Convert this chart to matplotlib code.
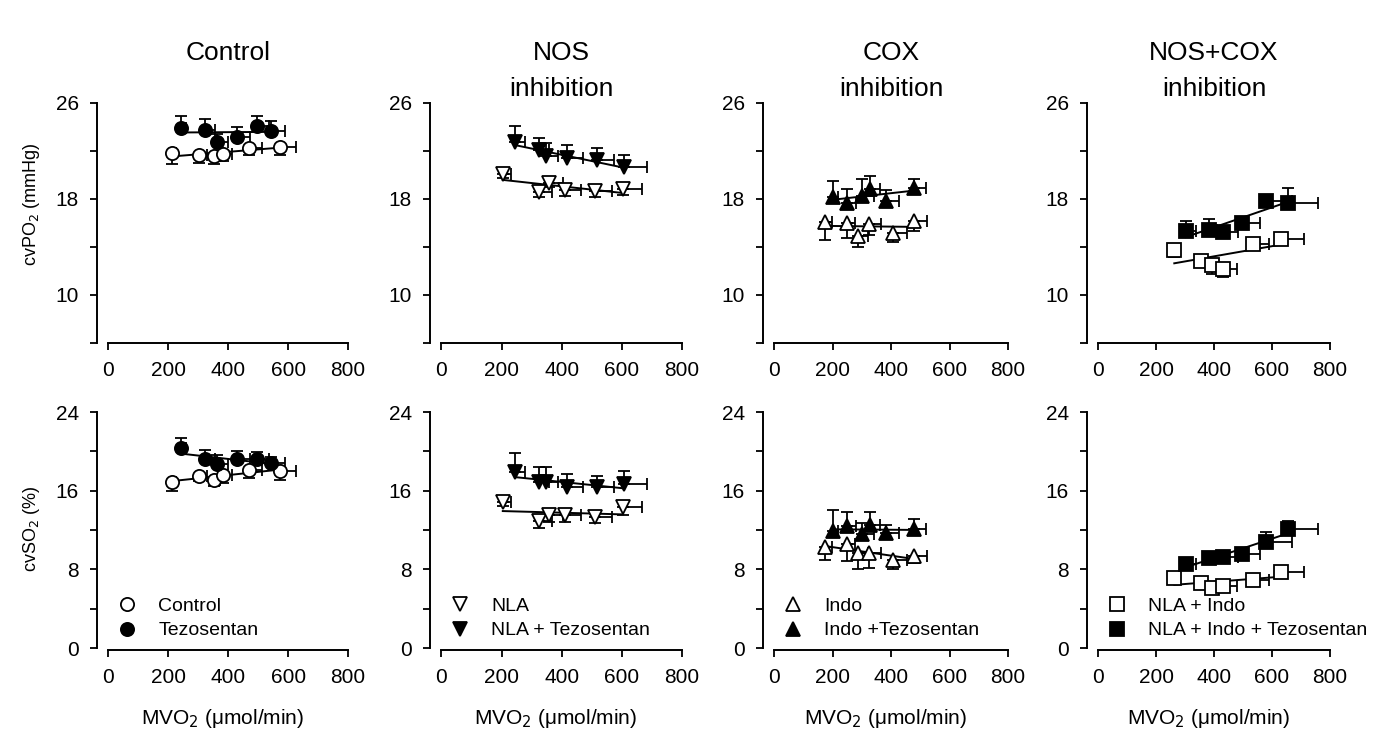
import numpy as np
import matplotlib
matplotlib.use("Agg")
import matplotlib.pyplot as plt

plt.rcParams['font.family'] = ['Liberation Sans', 'DejaVu Sans']

# MVO2 (x) per group, with SEM (drawn to the right)
mvo2_control = [212, 304, 351, 381, 469, 573]
mvo2_control_err = [15, 24, 20, 31, 43, 53]
mvo2_tezo = [243, 322, 362, 429, 496, 543]
mvo2_tezo_err = [15, 33, 37, 44, 40, 45]
mvo2_nla = [204, 324, 357, 412, 512, 604]
mvo2_nla_err = [28, 45, 48, 53, 55, 64]
mvo2_nla_tezo = [246, 324, 349, 419, 518, 608]
mvo2_nla_tezo_err = [33, 35, 39, 52, 57, 74]
mvo2_indo = [175, 248, 286, 326, 407, 478]
mvo2_indo_err = [23, 30, 34, 40, 46, 46]
mvo2_indo_tezo = [200, 250, 301, 329, 384, 478]
mvo2_indo_tezo_err = [20, 29, 39, 32, 42, 41]
mvo2_nlaindo = [263, 354, 392, 432, 535, 630]
mvo2_nlaindo_err = [8, 20, 17, 46, 55, 82]
mvo2_nlaindo_tezo = [303, 382, 432, 497, 578, 656]
mvo2_nlaindo_tezo_err = [34, 30, 52, 62, 92, 101]

# cvPO2 (mmHg)
po2_control = [21.8, 21.64, 21.58, 21.75, 22.22, 22.36]
po2_control_err = [0.89, 0.67, 0.67, 0.55, 0.55, 0.7]
po2_tezo = [23.94, 23.75, 22.78, 23.2, 24.08, 23.67]
po2_tezo_err = [0.95, 0.92, 0.6, 0.8, 0.83, 0.86]
po2_nla = [20.08, 18.61, 19.36, 18.75, 18.69, 18.81]
po2_nla_err = [0.3, 0.47, 0.4, 0.5, 0.5, 0.5]
po2_nla_tezo = [22.78, 22.08, 21.58, 21.44, 21.25, 20.64]
po2_nla_tezo_err = [1.3, 1.03, 1.1, 1.05, 1.03, 1.03]
po2_indo = [16.11, 15.97, 14.94, 15.9, 15.2, 16.2]
po2_indo_err = [1.5, 1.2, 0.9, 0.9, 0.8, 0.9]
po2_indo_tezo = [18.14, 17.7, 18.25, 18.8, 17.86, 18.9]
po2_indo_tezo_err = [1.36, 1.17, 1.39, 1.1, 0.9, 0.8]
po2_nlaindo = [13.75, 12.86, 12.5, 12.14, 14.25, 14.7]
po2_nlaindo_err = [0.55, 0.4, 0.78, 0.6, 0.3, 0.3]
po2_nlaindo_tezo = [15.33, 15.42, 15.25, 16.03, 17.83, 17.7]
po2_nlaindo_tezo_err = [0.86, 0.9, 0.4, 0.4, 0.3, 1.25]

# cvSO2 (%)
so2_control = [16.92, 17.49, 17.08, 17.56, 18.1, 18.0]
so2_control_err = [0.92, 0.5, 0.6, 0.8, 0.85, 0.92]
so2_tezo = [20.31, 19.19, 18.71, 19.19, 19.19, 18.78]
so2_tezo_err = [1.02, 0.95, 0.92, 0.88, 0.78, 0.68]
so2_nla = [14.88, 12.95, 13.53, 13.53, 13.36, 14.3]
so2_nla_err = [0.4, 0.78, 0.68, 0.68, 0.6, 0.78]
so2_nla_tezo = [17.93, 16.92, 16.92, 16.34, 16.34, 16.68]
so2_nla_tezo_err = [1.86, 1.5, 1.53, 1.36, 1.19, 1.29]
so2_indo = [10.3, 10.54, 9.63, 9.63, 8.95, 9.39]
so2_indo_err = [1.36, 1.69, 1.56, 1.46, 0.95, 0.78]
so2_indo_tezo = [11.93, 12.41, 11.59, 12.5, 11.73, 12.1]
so2_indo_tezo_err = [2.1, 1.39, 1.15, 1.36, 0.78, 0.98]
so2_nlaindo = [7.09, 6.64, 6.14, 6.31, 6.92, 7.76]
so2_nlaindo_err = [0.3, 0.3, 0.3, 0.3, 0.3, 0.3]
so2_nlaindo_tezo = [8.51, 9.12, 9.29, 9.53, 10.81, 12.1]
so2_nlaindo_tezo_err = [0.3, 0.3, 0.3, 0.3, 0.95, 0.85]

titles = ['Control', 'NOS\ninhibition', 'COX\ninhibition', 'NOS+COX\ninhibition']
legend_open = ['Control', 'NLA', 'Indo', 'NLA + Indo']
legend_filled = ['Tezosentan', 'NLA + Tezosentan', 'Indo +Tezosentan', 'NLA + Indo + Tezosentan']
markers = ['o', 'v', '^', 's']

open_x = [mvo2_control, mvo2_nla, mvo2_indo, mvo2_nlaindo]
open_xe = [mvo2_control_err, mvo2_nla_err, mvo2_indo_err, mvo2_nlaindo_err]
filled_x = [mvo2_tezo, mvo2_nla_tezo, mvo2_indo_tezo, mvo2_nlaindo_tezo]
filled_xe = [mvo2_tezo_err, mvo2_nla_tezo_err, mvo2_indo_tezo_err, mvo2_nlaindo_tezo_err]
open_po2 = [(po2_control, po2_control_err), (po2_nla, po2_nla_err), (po2_indo, po2_indo_err), (po2_nlaindo, po2_nlaindo_err)]
filled_po2 = [(po2_tezo, po2_tezo_err), (po2_nla_tezo, po2_nla_tezo_err), (po2_indo_tezo, po2_indo_tezo_err), (po2_nlaindo_tezo, po2_nlaindo_tezo_err)]
open_so2 = [(so2_control, so2_control_err), (so2_nla, so2_nla_err), (so2_indo, so2_indo_err), (so2_nlaindo, so2_nlaindo_err)]
filled_so2 = [(so2_tezo, so2_tezo_err), (so2_nla_tezo, so2_nla_tezo_err), (so2_indo_tezo, so2_indo_tezo_err), (so2_nlaindo_tezo, so2_nlaindo_tezo_err)]

W, H = 1382, 736
fig = plt.figure(figsize=(W / 100, H / 100), dpi=100)

col_left = [97, 430, 763, 1087]
col_right = [348, 682, 1008, 1330]


def series(ax, x, xe, y, ye, marker, filled):
    x = np.array(x, float)
    y = np.array(y, float)
    xe = np.array(xe, float)
    ye = np.array(ye, float)
    z = np.zeros_like(ye)
    yerr = [z, ye] if filled else [ye, z]
    ax.errorbar(x, y, xerr=[np.zeros_like(xe), xe], yerr=yerr, fmt='none',
                ecolor='black', elinewidth=1.3, capsize=4, capthick=1.3, zorder=2)
    # linear regression line over the data range
    k, b = np.polyfit(x, y, 1)
    xl = np.array([x.min(), x.max()])
    ax.plot(xl, k * xl + b, color='black', lw=1.4, zorder=3)
    ax.plot(x, y, linestyle='none', marker=marker, ms=9.5, mew=1.3, mec='black',
            mfc='black' if filled else 'white', zorder=4)


def style(ax, ylo, yhi, majors, minors, lim):
    ax.set_xlim(-38, 800)
    ax.set_ylim(*lim)
    for s in ['top', 'right']:
        ax.spines[s].set_visible(False)
    ax.spines['bottom'].set_bounds(0, 800)
    ax.spines['left'].set_bounds(ylo, yhi)
    for s in ['bottom', 'left']:
        ax.spines[s].set_linewidth(1.4)
    ax.set_xticks([0, 200, 400, 600, 800])
    ax.set_yticks(majors)
    ax.set_yticks(minors, minor=True)
    ax.tick_params(which='both', direction='out', length=5, width=1.3, labelsize=15, pad=8)


for i in range(4):
    l = col_left[i] / W
    w = (col_right[i] - col_left[i]) / W
    # top row: cvPO2
    ax = fig.add_axes([l, 1 - 343 / H, w, 240 / H])
    series(ax, open_x[i], open_xe[i], open_po2[i][0], open_po2[i][1], markers[i], False)
    series(ax, filled_x[i], filled_xe[i], filled_po2[i][0], filled_po2[i][1], markers[i], True)
    style(ax, 6, 26, [10, 18, 26], [6, 14, 22], (6, 26))
    if i == 0:
        ax.set_ylabel('cvPO$_2$ (mmHg)', fontsize=13)
        ax.yaxis.set_label_coords(-0.22, 0.58)
    # bottom row: cvSO2
    ax2 = fig.add_axes([l, 1 - 650 / H, w, 238 / H])
    series(ax2, open_x[i], open_xe[i], open_so2[i][0], open_so2[i][1], markers[i], False)
    series(ax2, filled_x[i], filled_xe[i], filled_so2[i][0], filled_so2[i][1], markers[i], True)
    style(ax2, 0, 24, [0, 8, 16, 24], [4, 12, 20], (-0.2, 24))
    if i == 0:
        ax2.set_ylabel('cvSO$_2$ (%)', fontsize=13)
        ax2.yaxis.set_label_coords(-0.22, 0.51)
    ax2.set_xlabel('MVO$_2$ (\u03bcmol/min)', fontsize=15, labelpad=14)
    h1 = ax2.plot([], [], linestyle='none', marker=markers[i], ms=9.5, mew=1.3,
                  mec='black', mfc='white')[0]
    h2 = ax2.plot([], [], linestyle='none', marker=markers[i], ms=9.5, mew=1.3,
                  mec='black', mfc='black')[0]
    ax2.legend([h1, h2], [legend_open[i], legend_filled[i]], loc='lower left',
               bbox_to_anchor=(0.0, 0.0), frameon=False, fontsize=14,
               handletextpad=0.6, labelspacing=0.35, borderaxespad=0.45,
               borderpad=0.1)
    # column title
    cx = (col_left[i] + 11 + col_right[i]) / 2 / W
    fig.text(cx, 1 - 41 / H, titles[i], ha='center', va='top', fontsize=19, linespacing=1.65)

fig.savefig('out.png', dpi=100)
